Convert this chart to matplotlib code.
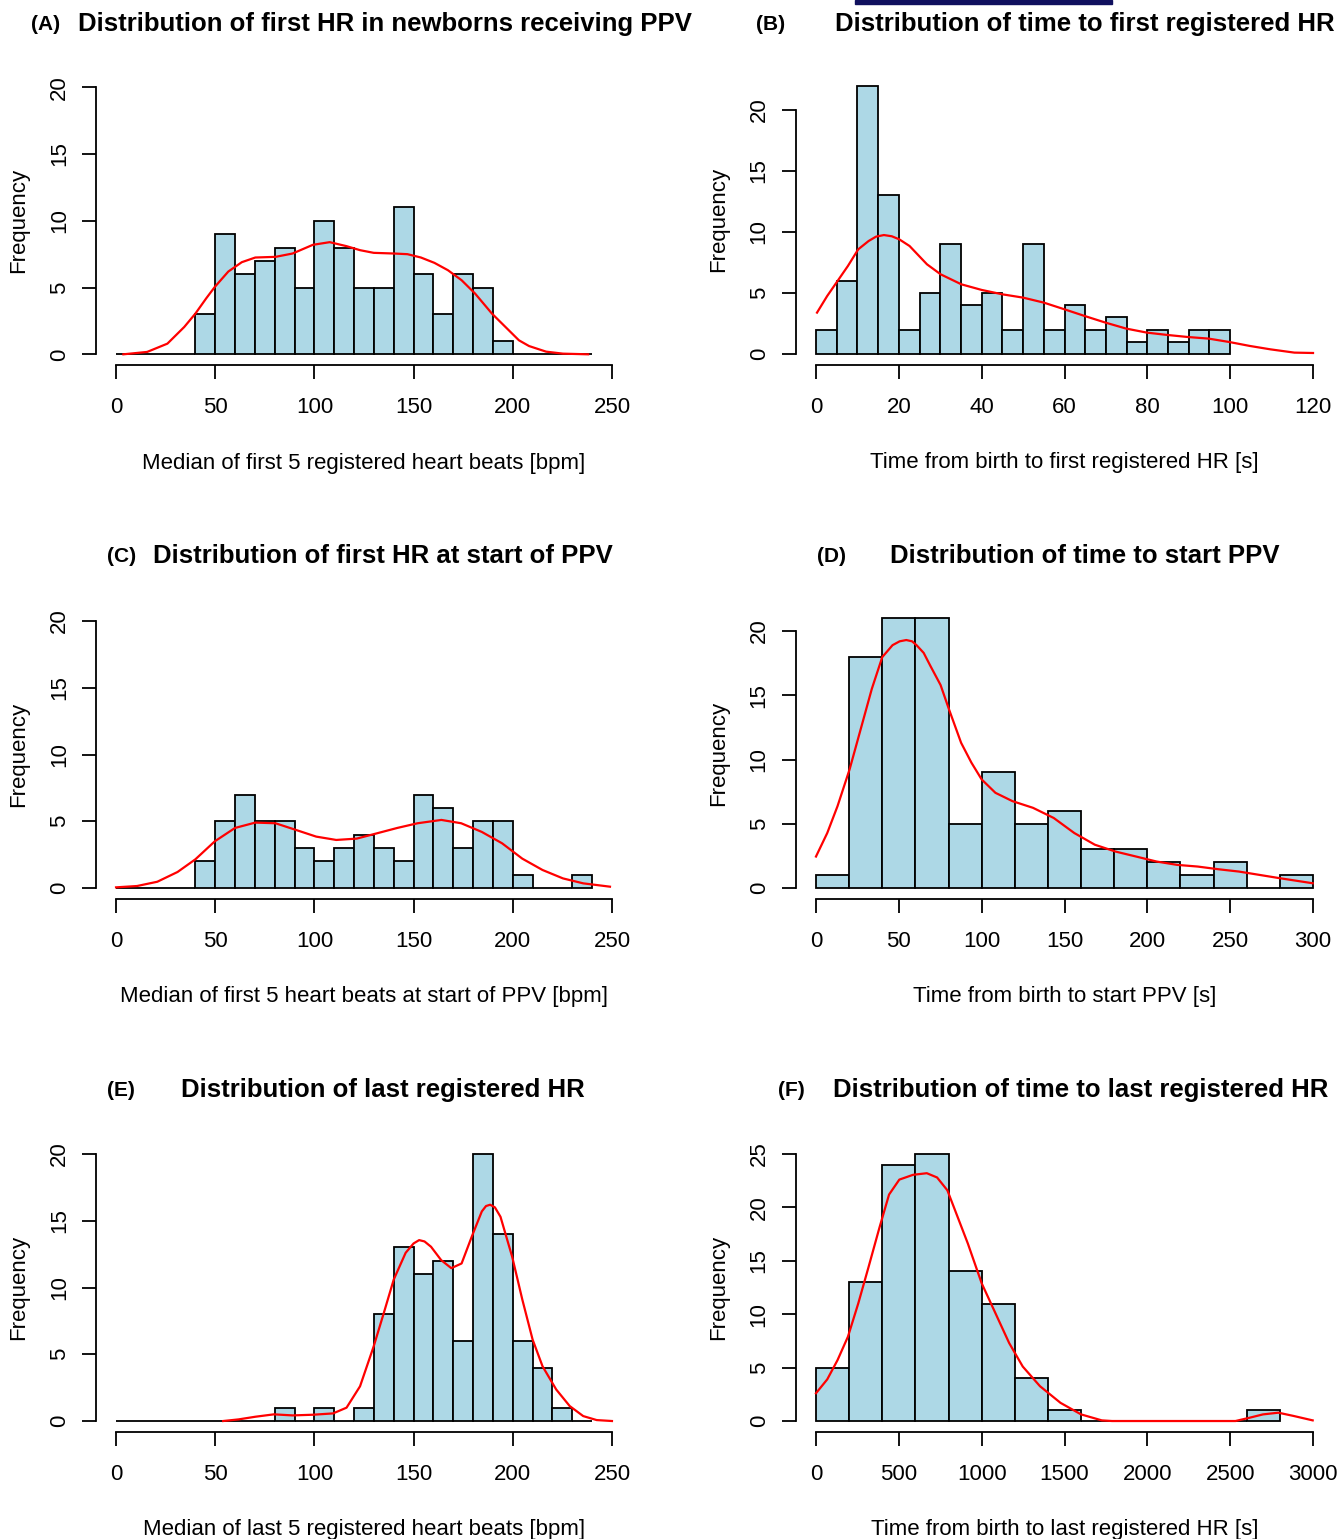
import matplotlib
matplotlib.use("Agg")
import matplotlib.pyplot as plt
from matplotlib.patches import Rectangle
import numpy as np

plt.rcParams['font.family'] = ['Liberation Sans', 'DejaVu Sans']

W, H = 1339, 1539

# ---------------- data ----------------
# (A) first HR
A_start, A_bw = 0, 10
A_counts = [0, 0, 0, 0, 3, 9, 6, 7, 8, 5, 10, 8, 5, 5, 11, 6, 3, 6, 5, 1, 0, 0, 0, 0]
A_curve_x = [3.7, 15.7, 25.9, 34.4, 40, 45.5, 49.8, 56.6, 63.4, 70.2, 80.4, 89, 99.2, 107.7,
             116.2, 123, 129.9, 140, 146.9, 153.7, 160.5, 167.3, 174.2, 181, 189.5, 196.3,
             203.1, 208.2, 216.8, 225.3, 238]
A_curve_y = [0, 0.18, 0.8, 2.05, 3.05, 4.2, 5.05, 6.2, 6.9, 7.25, 7.3, 7.55, 8.2, 8.4,
             8.1, 7.8, 7.6, 7.55, 7.5, 7.25, 6.85, 6.3, 5.55, 4.55, 3.05, 2.05,
             1.05, 0.62, 0.2, 0.05, 0]

# (B) time to first HR
B_start, B_bw = 0, 5
B_counts = [2, 6, 22, 13, 2, 5, 9, 4, 5, 2, 9, 2, 4, 2, 3, 1, 2, 1, 2, 2]
B_curve_x = [0.25, 2.7, 5.2, 7.7, 10.2, 12.7, 14.5, 16.4, 18.3, 20.1, 22.6, 26.8, 30.1, 35.1,
             40, 45, 50, 55, 60, 64.9, 69.9, 74.9, 79.9, 84.8, 89.8, 94.8, 99.8, 104.7, 109.7,
             115.5, 120]
B_curve_y = [3.39, 4.75, 5.98, 7.21, 8.58, 9.26, 9.62, 9.75, 9.65, 9.4, 8.85, 7.35, 6.53, 5.71,
             5.25, 4.89, 4.62, 4.21, 3.66, 3.11, 2.57, 2.08, 1.75, 1.56, 1.39, 1.26, 0.98, 0.66,
             0.38, 0.11, 0.08]

# (C) first HR at start of PPV
C_start, C_bw = 0, 10
C_counts = [0, 0, 0, 0, 2, 5, 7, 5, 5, 3, 2, 3, 4, 3, 2, 7, 6, 3, 5, 5, 1, 0, 0, 1]
C_curve_x = [0, 10.6, 20.8, 31, 40, 49.8, 60, 70.2, 80.4, 90.7, 100.9, 111, 121.3, 131.6,
             141.8, 152, 164, 174, 184.4, 194.6, 204.8, 215, 225.3, 235.5, 249]
C_curve_y = [0.05, 0.15, 0.47, 1.2, 2.15, 3.5, 4.5, 4.9, 4.85, 4.35, 3.85, 3.6, 3.7, 4.1,
             4.5, 4.85, 5.1, 4.85, 4.2, 3.35, 2.2, 1.35, 0.72, 0.35, 0.1]

# (D) time to start PPV
D_start, D_bw = 0, 20
D_counts = [1, 18, 21, 21, 5, 9, 5, 6, 3, 3, 2, 1, 2, 0, 1]
D_curve_x = [0, 6.8, 13, 20.3, 27.5, 33.7, 40, 46.2, 50.5, 54.5, 58, 60.7, 65, 69, 75.2, 80.3,
             87.6, 93.8, 100, 108.3, 118.6, 131, 143.5, 155.9, 168.3, 180.7, 193.2, 205.6, 218,
             230.4, 242.9, 255.3, 267.7, 280.1, 299.8]
D_curve_y = [2.45, 4.28, 6.37, 9.24, 12.6, 15.5, 17.97, 18.9, 19.2, 19.3, 19.2, 18.9, 18.3,
             17.3, 15.8, 13.9, 11.3, 9.76, 8.45, 7.41, 6.76, 6.24, 5.45, 4.28, 3.37, 2.84, 2.45,
             2.06, 1.8, 1.67, 1.46, 1.28, 1.02, 0.76, 0.37]

# (E) last registered HR
E_start, E_bw = 0, 10
E_counts = [0, 0, 0, 0, 0, 0, 0, 0, 1, 0, 1, 0, 1, 8, 13, 11, 12, 6, 20, 14, 6, 4, 1, 0]
E_curve_x = [54, 61.7, 70.2, 79.6, 89, 99.2, 109.4, 116.2, 123, 129.9, 135, 140, 146, 150,
             152.8, 155.5, 158.8, 163.9, 169, 174.2, 179.3, 184.4, 186.5, 188.6, 191, 193.8,
             199.7, 204.8, 210, 215, 221.9, 228.7, 235.5, 242.3, 250]
E_curve_y = [0, 0.12, 0.32, 0.5, 0.42, 0.47, 0.57, 1.0, 2.6, 5.6, 8.1, 10.6, 12.6, 13.3,
             13.55, 13.45, 13.05, 12.05, 11.45, 11.8, 13.8, 15.7, 16.1, 16.2, 16.0, 15.3,
             12.3, 9.1, 6.1, 4.1, 2.36, 1.12, 0.37, 0.07, 0]

# (F) time to last registered HR
F_start, F_bw = 0, 200
F_counts = [5, 13, 24, 25, 14, 11, 4, 1, 0, 0, 0, 0, 0, 1]
F_curve_x = [0, 68, 130, 193, 255, 317, 383, 441, 503, 586, 669, 731, 793, 855, 917, 1000,
             1083, 1166, 1248, 1352, 1476, 1600, 1725, 1787, 2532, 2615, 2698, 2791, 2884, 2998]
F_curve_y = [2.6, 3.9, 5.7, 7.9, 11.0, 14.4, 18.1, 21.2, 22.6, 23.05, 23.2, 22.8, 21.6, 19.1,
             16.6, 12.9, 10.1, 7.3, 5.1, 3.26, 1.7, 0.62, 0.06, 0, 0, 0.3, 0.62, 0.78, 0.47, 0.06]

# ---------------- drawing ----------------
fig = plt.figure(figsize=(W / 100, H / 100), dpi=100)


def px_axes(left, top, right, bottom):
    return fig.add_axes([left / W, 1 - bottom / H, (right - left) / W, (bottom - top) / H])


def panel(box, start, bw, counts, cx, cy, xmax, xstep, ymax, ystep, ylim_top, xlabel):
    ax = px_axes(*box)
    edges = start + bw * np.arange(len(counts))
    ax.bar(edges, counts, width=bw, align='edge', color='#ADD8E6',
           edgecolor='black', linewidth=1.3, zorder=2)
    ax.plot(cx, cy, color='red', linewidth=1.6, zorder=3, solid_joinstyle='round')
    pad_x = 0.04 * xmax
    ax.set_xlim(-pad_x, xmax + pad_x)
    ax.set_ylim(-0.04 * ylim_top, ylim_top * 1.04)
    xt = np.arange(0, xmax + 1e-9, xstep)
    yt = np.arange(0, ymax + 1e-9, ystep)
    ax.set_xticks(xt)
    ax.set_yticks(yt)
    ax.set_xticklabels([f"{int(v)}" for v in xt])
    ax.set_yticklabels([f"{int(v)}" for v in yt], rotation=90, va='center')
    for s in ('top', 'right'):
        ax.spines[s].set_visible(False)
    ax.spines['bottom'].set_bounds(xt[0], xt[-1])
    ax.spines['left'].set_bounds(yt[0], yt[-1])
    for s in ('bottom', 'left'):
        ax.spines[s].set_linewidth(1.3)
    ax.tick_params(axis='both', direction='out', length=10, width=1.3, labelsize=16)
    ax.tick_params(axis='x', pad=13)
    ax.tick_params(axis='y', pad=9)
    ax.set_xlabel(xlabel, fontsize=16, labelpad=25)
    ax.set_ylabel('Frequency', fontsize=16, labelpad=14)
    ax.patch.set_alpha(0)
    return ax


L = (96.2, 631.8)
R = (796.1, 1332.9)

panel((L[0], 76.6, L[1], 365.0), A_start, A_bw, A_counts, A_curve_x, A_curve_y,
      250, 50, 20, 5, 20, 'Median of first 5 registered heart beats [bpm]')
panel((R[0], 74.9, R[1], 364.7), B_start, B_bw, B_counts, B_curve_x, B_curve_y,
      120, 20, 20, 5, 22, 'Time from birth to first registered HR [s]')
panel((L[0], 610.3, L[1], 898.7), C_start, C_bw, C_counts, C_curve_x, C_curve_y,
      250, 50, 20, 5, 20, 'Median of first 5 heart beats at start of PPV [bpm]')
panel((R[0], 607.4, R[1], 898.8), D_start, D_bw, D_counts, D_curve_x, D_curve_y,
      300, 50, 20, 5, 21, 'Time from birth to start PPV [s]')
panel((L[0], 1143.3, L[1], 1431.7), E_start, E_bw, E_counts, E_curve_x, E_curve_y,
      250, 50, 20, 5, 20, 'Median of last 5 registered heart beats [bpm]')
panel((R[0], 1143.3, R[1], 1431.7), F_start, F_bw, F_counts, F_curve_x, F_curve_y,
      3000, 500, 25, 5, 25, 'Time from birth to last registered HR [s]')

# titles and panel letters
titles = [
    ('(A)', 46, 'Distribution of first HR in newborns receiving PPV', 385, 24),
    ('(B)', 771, 'Distribution of time to first registered HR', 1085, 24),
    ('(C)', 122, 'Distribution of first HR at start of PPV', 383, 556),
    ('(D)', 832, 'Distribution of time to start PPV', 1085, 556),
    ('(E)', 121, 'Distribution of last registered HR', 383, 1090),
    ('(F)', 791, 'Distribution of time to last registered HR', 1081, 1090),
]
for letter, lx, title, tx, ty in titles:
    fig.text(lx / W, 1 - ty / H, letter, fontsize=15, fontweight='bold',
             ha='center', va='center')
    fig.text(tx / W, 1 - ty / H, title, fontsize=18.5, fontweight='bold',
             ha='center', va='center')

# thin navy bar at the top edge
fig.patches.append(Rectangle((855 / W, 1 - 4 / H), (1112 - 855) / W, 4 / H,
                             transform=fig.transFigure, color='#10105e', zorder=5))

fig.savefig('out.png', dpi=100)
